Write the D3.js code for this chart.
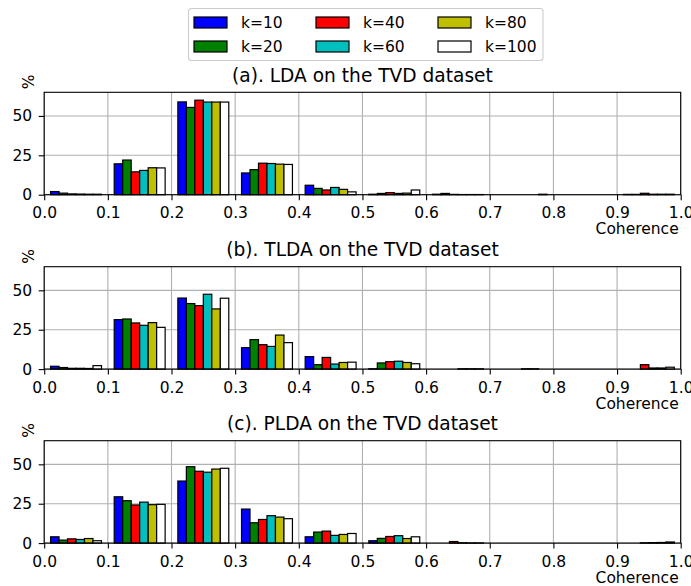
<!DOCTYPE html>
<html>
<head>
<meta charset="utf-8">
<script src="https://cdn.jsdelivr.net/npm/d3@7/dist/d3.min.js"></script>
<style>
  html, body { margin: 0; padding: 0; background: #fff; }
  svg text { font-family: "DejaVu Sans", sans-serif; fill: #000; }
</style>
</head>
<body>
<svg id="chart" width="691" height="586"></svg>
<script>
// Coherence bins (left edges), width 0.1
const binStarts = [0.0, 0.1, 0.2, 0.3, 0.4, 0.5, 0.6, 0.7, 0.8, 0.9];
const binWidth = 0.1;
const kLabels = ["k=10", "k=20", "k=40", "k=60", "k=80", "k=100"];
const kColors = ["#0000ff", "#008000", "#ff0000", "#00bfbf", "#bfbf00", "#ffffff"];
const xTicks = [0, 0.1, 0.2, 0.3, 0.4, 0.5, 0.6, 0.7, 0.8, 0.9, 1.0];
const yTicks = [0, 25, 50];

// Share of topics (%) per bin, one row per k
const ldaShares = [
  [2.0, 19.6, 58.9, 13.8, 6.0, 0.3, 0.3, 0.0, 0.0, 0.2],
  [1.0, 22.0, 55.4, 15.9, 4.0, 0.8, 0.8, 0.0, 0.0, 0.2],
  [0.5, 14.5, 60.0, 20.0, 3.0, 1.3, 0.2, 0.0, 0.0, 0.9],
  [0.4, 15.4, 58.8, 19.8, 4.6, 0.8, 0.1, 0.0, 0.0, 0.3],
  [0.3, 17.1, 58.8, 19.4, 3.4, 1.0, 0.1, 0.0, 0.0, 0.3],
  [0.3, 17.0, 58.8, 19.2, 1.8, 3.0, 0.1, 0.3, 0.0, 0.3]
];
const tldaShares = [
  [1.8, 31.4, 45.1, 13.6, 7.9, 0.2, 0.0, 0.0, 0.0, 0.0],
  [1.0, 31.8, 41.6, 18.7, 2.8, 3.9, 0.0, 0.0, 0.0, 0.0],
  [0.5, 29.3, 40.3, 15.5, 7.4, 4.7, 0.0, 0.0, 0.0, 2.8],
  [0.5, 27.8, 47.5, 14.4, 3.2, 5.0, 0.2, 0.2, 0.0, 0.7],
  [0.4, 29.5, 38.2, 21.6, 4.2, 4.2, 0.2, 0.2, 0.0, 0.7],
  [2.2, 26.5, 45.0, 16.8, 4.4, 3.4, 0.2, 0.0, 0.0, 1.2]
];
const pldaShares = [
  [4.0, 29.4, 39.4, 21.6, 4.0, 1.5, 0.0, 0.0, 0.0, 0.0],
  [1.9, 26.9, 48.5, 12.9, 7.0, 3.0, 0.0, 0.0, 0.0, 0.0],
  [2.7, 24.2, 45.6, 15.0, 7.6, 4.2, 1.0, 0.0, 0.0, 0.2],
  [2.3, 26.0, 45.0, 17.4, 4.9, 4.7, 0.2, 0.0, 0.0, 0.3],
  [2.9, 24.4, 47.0, 16.5, 5.5, 2.9, 0.1, 0.0, 0.0, 0.4],
  [1.5, 24.6, 47.5, 15.5, 6.1, 4.0, 0.1, 0.0, 0.0, 0.7]
];

const panels = [
  { title: "(a). LDA on the TVD dataset", shares: ldaShares, top: 92.3 },
  { title: "(b). TLDA on the TVD dataset", shares: tldaShares, top: 266.7 },
  { title: "(c). PLDA on the TVD dataset", shares: pldaShares, top: 440.7 }
];

const svg = d3.select("#chart");
const left = 44.2, right = 680.7, panelH = 102.4;
const fontSize = 15.5;

const x = d3.scaleLinear().domain([0, 1]).range([left, right]);

// Grouped bars fill 80% of each bin, split evenly between the k series
const groupFrac = 0.8;
const barW = binWidth * groupFrac / kLabels.length;
const groupOffset = binWidth * (1 - groupFrac) / 2;

panels.forEach(p => {
  const y = d3.scaleLinear().domain([0, 65]).range([p.top + panelH, p.top]);
  const g = svg.append("g");

  // grid
  g.append("g").selectAll("line.vx").data(xTicks).join("line")
    .attr("x1", d => x(d)).attr("x2", d => x(d))
    .attr("y1", p.top).attr("y2", p.top + panelH)
    .attr("stroke", "#b0b0b0").attr("stroke-width", 1.1);
  g.append("g").selectAll("line.hy").data(yTicks).join("line")
    .attr("x1", left).attr("x2", right)
    .attr("y1", d => y(d)).attr("y2", d => y(d))
    .attr("stroke", "#b0b0b0").attr("stroke-width", 1.1);

  // bars
  p.shares.forEach((row, k) => {
    g.append("g").selectAll("rect").data(row.map((v, i) => ({ v, b: binStarts[i] })))
      .join("rect")
      .filter(d => d.v > 0)
      .attr("x", d => x(d.b + groupOffset + k * barW))
      .attr("width", x(barW) - x(0))
      .attr("y", d => y(d.v))
      .attr("height", d => y(0) - y(d.v))
      .attr("fill", kColors[k])
      .attr("stroke", "#000")
      .attr("stroke-width", 1.2);
  });

  // axes
  const xAxis = d3.axisBottom(x).tickValues(xTicks).tickFormat(d3.format(".1f"))
    .tickSize(5.5).tickSizeOuter(0).tickPadding(7);
  const gx = g.append("g").attr("transform", `translate(0,${p.top + panelH})`).call(xAxis);
  const yAxis = d3.axisLeft(y).tickValues(yTicks).tickFormat(d3.format("d"))
    .tickSize(5.5).tickSizeOuter(0).tickPadding(6.5);
  const gy = g.append("g").attr("transform", `translate(${left},0)`).call(yAxis);
  [gx, gy].forEach(a => {
    a.select(".domain").remove();
    a.selectAll(".tick line").attr("stroke", "#000").attr("stroke-width", 1.1);
    a.selectAll(".tick text").attr("font-size", fontSize).attr("font-family", "DejaVu Sans");
  });

  // frame
  g.append("rect").attr("x", left).attr("y", p.top)
    .attr("width", right - left).attr("height", panelH)
    .attr("fill", "none").attr("stroke", "#000").attr("stroke-width", 1.1);

  // title
  g.append("text").attr("x", (left + right) / 2).attr("y", p.top - 10.5)
    .attr("text-anchor", "middle").attr("font-size", 18.6).text(p.title);

  // axis labels
  g.append("text").attr("x", right - 2).attr("y", p.top + panelH + 39.5)
    .attr("text-anchor", "end").attr("font-size", fontSize).text("Coherence");
  g.append("text")
    .attr("transform", `translate(34,${p.top - 3}) rotate(-90)`)
    .attr("text-anchor", "start").attr("font-size", fontSize).text("%");
});

// legend
const lg = svg.append("g");
lg.append("rect").attr("x", 188.5).attr("y", 8.5).attr("width", 354.5).attr("height", 52)
  .attr("rx", 3).attr("fill", "#fff").attr("stroke", "#cccccc").attr("stroke-width", 1.1);
const colX = [194, 316, 438];
const rowY = [17, 41];
kLabels.forEach((lab, i) => {
  const c = Math.floor(i / 2), r = i % 2;
  lg.append("rect").attr("x", colX[c]).attr("y", rowY[r]).attr("width", 33).attr("height", 11)
    .attr("fill", kColors[i]).attr("stroke", "#000").attr("stroke-width", 1.2);
  lg.append("text").attr("x", colX[c] + 47).attr("y", rowY[r] + 5.5).attr("dy", "0.36em")
    .attr("font-size", fontSize).text(lab);
});
</script>
</body>
</html>
